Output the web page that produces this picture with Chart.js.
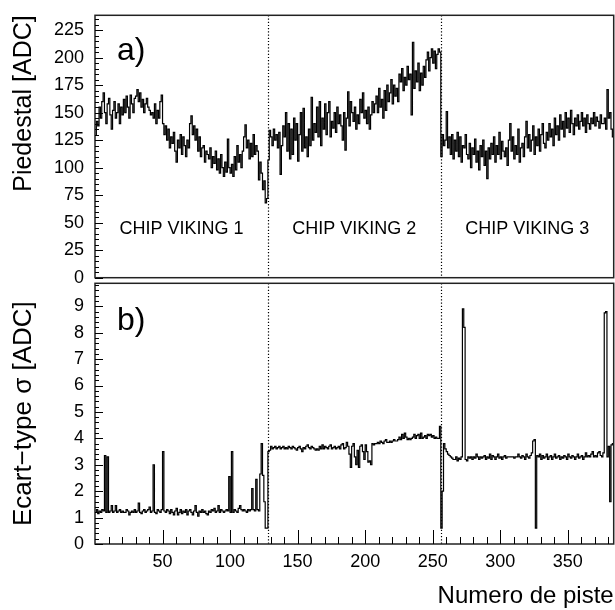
<!DOCTYPE html>
<html>
<head>
<meta charset="utf-8">
<title>Piedestal et bruit - VIKING</title>
<script src="https://cdn.jsdelivr.net/npm/chart.js@4.4.1/dist/chart.umd.min.js"></script>
<style>
    body { margin: 0; background: #fff; }
    .wrap { position: relative; width: 615px; height: 610px; }
    canvas { position: absolute; left: 0; }
    #chartA { top: 0; }
    #chartB { top: 270px; }
</style>
</head>
<body onload="onInit()">
<div class="wrap">
    <canvas id="chartA" width="615" height="300"></canvas>
    <canvas id="chartB" width="615" height="340"></canvas>
</div>
<script>
'use strict'

// piedestal per strip (ADC), one array per VIKING chip (128 strips each)
const PED_CHIP1 = [
    130, 142, 138, 155, 145, 160, 168, 150, 140, 158,
    163, 148, 135, 152, 160, 145, 150, 158, 140, 155,
    148, 162, 150, 165, 155, 145, 166, 158, 150, 163,
    165, 171, 160, 168, 155, 162, 150, 158, 163, 155,
    152, 148, 150, 145, 158, 140, 152, 145, 160, 166,
    140, 130, 138, 125, 135, 118, 128, 122, 132, 115,
    105, 125, 118, 130, 112, 128, 120, 110, 125, 118,
    140, 147, 130, 138, 125, 135, 115, 128, 110, 118,
    120, 105, 115, 112, 108, 118, 100, 110, 104, 115,
    98, 108, 95, 112, 100, 92, 105, 96, 126, 100,
    95, 103, 92, 110, 98, 120, 105, 112, 100, 115,
    128, 139, 118, 125, 108, 122, 110, 130, 112, 120,
    115, 89, 105, 95, 80, 88, 68, 72
]
const PED_CHIP2 = [
    107, 134, 128, 120, 135, 125, 130, 118, 132, 94,
    120, 138, 128, 150, 115, 140, 108, 135, 112, 145,
    125, 140, 106, 130, 150, 115, 154, 118, 128, 110,
    135, 120, 164, 125, 140, 132, 155, 128, 160, 120,
    145, 135, 158, 130, 150, 160, 128, 142, 136, 150,
    132, 155, 140, 148, 138, 125, 150, 116, 145, 169,
    138, 160, 150, 142, 155, 135, 148, 140, 162, 150,
    168, 145, 152, 140, 155, 135, 148, 160, 150, 158,
    165, 150, 172, 155, 162, 145, 170, 152, 175, 160,
    168, 180, 158, 175, 165, 172, 160, 185, 178, 190,
    170, 182, 175, 192, 180, 185, 148, 214, 172, 188,
    178, 195, 170, 186, 175, 192, 182, 198, 205, 188,
    200, 208, 195, 206, 190, 203, 208, 205
]
const PED_CHIP3 = [
    110, 130, 120, 125, 151, 118, 128, 112, 130, 108,
    125, 115, 132, 110, 128, 105, 120, 118, 130, 112,
    108, 122, 100, 118, 112, 126, 105, 115, 98, 120,
    110, 125, 102, 115, 90, 118, 108, 122, 112, 128,
    105, 120, 112, 132, 108, 124, 115, 110, 118, 102,
    125, 140, 115, 128, 108, 120, 112, 135, 105, 118,
    122, 110, 128, 142, 118, 130, 115, 125, 138, 112,
    128, 120, 135, 115, 130, 140, 122, 118, 132, 125,
    140, 128, 135, 120, 145, 130, 138, 125, 148, 135,
    142, 128, 150, 136, 145, 132, 152, 140, 130, 145,
    138, 148, 135, 142, 150, 138, 145, 132, 148, 140,
    135, 145, 140, 150, 138, 146, 142, 136, 148, 140,
    140, 145, 135, 171, 145, 150, 135, 128
]

// ecart-type (bruit) per strip (ADC)
const SIG_CHIP1 = [
    1.2, 1.3, 1.15, 1.25, 1.2, 1.3, 1.25, 3.35, 1.2, 3.3,
    1.2, 1.25, 1.45, 1.2, 1.25, 1.45, 1.2, 1.25, 1.3, 1.2,
    1.25, 1.2, 1.2, 1.3, 1.25, 1.1, 1.2, 1.25, 1.2, 1.3,
    1.2, 1.25, 1.55, 1.2, 1.15, 1.25, 1.3, 1.2, 1.25, 1.3,
    1.4, 1.2, 1.25, 3.0, 1.2, 1.15, 1.3, 1.25, 1.2, 1.3,
    3.5, 1.25, 1.2, 1.3, 1.25, 1.15, 1.3, 1.2, 1.1, 1.25,
    1.35, 1.1, 1.2, 1.3, 1.15, 1.25, 1.2, 1.3, 1.1, 1.25,
    1.3, 1.2, 1.1, 1.25, 1.45, 1.2, 1.05, 1.25, 1.2, 1.3,
    1.2, 1.25, 1.15, 1.1, 1.25, 1.2, 1.3, 1.25, 1.35, 1.2,
    1.25, 1.45, 1.2, 1.3, 1.25, 1.2, 1.25, 1.3, 1.25, 2.55,
    1.2, 3.5, 1.2, 1.3, 1.25, 1.2, 1.35, 1.45, 1.3, 1.25,
    1.3, 1.25, 1.2, 1.3, 1.25, 1.3, 2.1, 1.3, 1.25, 2.45,
    1.3, 1.25, 2.65, 3.8, 2.6, 1.6, 0.6, 0.6
]
const SIG_CHIP2 = [
    3.5, 3.55, 3.7, 3.6, 3.65, 3.7, 3.6, 3.65, 3.7, 3.6,
    3.65, 3.7, 3.6, 3.65, 3.6, 3.7, 3.65, 3.6, 3.7, 3.65,
    3.6, 3.55, 3.65, 3.7, 3.6, 3.5, 3.65, 3.6, 3.7, 3.75,
    3.65, 3.6, 3.7, 3.65, 3.6, 3.55, 3.6, 3.55, 3.7, 3.6,
    3.75, 3.6, 3.7, 3.65, 3.6, 3.7, 3.75, 3.6, 3.65, 3.7,
    3.6, 3.65, 3.7, 3.6, 3.75, 3.8, 3.6, 3.65, 3.85, 3.7,
    3.4, 2.9, 3.7, 3.8, 3.3, 3.0, 3.55, 2.9, 3.7, 3.75,
    3.5, 3.2, 3.75, 3.5, 3.1, 3.15, 3.0, 3.8, 3.75, 3.8,
    3.8, 3.85, 3.8, 3.9, 3.85, 3.8, 3.9, 3.95, 3.85, 3.85,
    3.9, 3.85, 3.9, 3.95, 3.9, 3.9, 3.95, 4.05, 3.95, 4.15,
    4.0, 4.2, 4.05, 3.95, 4.0, 3.95, 4.0, 4.05, 4.15, 4.0,
    4.1, 4.15, 4.0, 4.2, 4.0, 4.05, 4.1, 4.0, 4.15, 4.1,
    4.15, 4.05, 4.1, 4.0, 4.05, 4.0, 4.0, 4.45
]
const SIG_CHIP3 = [
    0.6, 2.0, 3.8, 3.6, 3.5, 3.4, 3.35, 3.3, 3.25, 3.2,
    3.2, 3.3, 3.15, 3.25, 3.2, 3.3, 8.9, 8.2, 3.2, 3.15,
    3.3, 3.25, 3.3, 3.2, 3.3, 3.25, 3.4, 3.3, 3.2, 3.3,
    3.25, 3.3, 3.35, 3.2, 3.3, 3.25, 3.4, 3.2, 3.35, 3.3,
    3.2, 3.3, 3.4, 3.25, 3.3, 3.2, 3.3, 3.35, 3.25, 3.3,
    3.3, 3.3, 3.3, 3.3, 3.25, 3.3, 3.3, 3.4, 3.3, 3.25,
    3.35, 3.3, 3.2, 3.4, 3.3, 3.25, 3.35, 3.45, 3.9, 3.95,
    0.6, 3.35, 3.3, 3.4, 3.2, 3.35, 3.25, 3.3, 3.4, 3.2,
    3.3, 3.35, 3.2, 3.3, 3.4, 3.25, 3.3, 3.35, 3.2, 3.3,
    3.25, 3.35, 3.3, 3.2, 3.4, 3.3, 3.25, 3.35, 3.3, 3.2,
    3.3, 3.4, 3.25, 3.3, 3.35, 3.2, 3.3, 3.45, 3.3, 3.35,
    3.3, 3.4, 3.5, 3.3, 3.35, 3.3, 3.45, 3.5, 3.35, 3.3,
    3.45, 8.75, 8.8, 3.3, 3.7, 1.6, 3.75, 3.8
]

const CHIP_LABELS = ['CHIP VIKING 1', 'CHIP VIKING 2', 'CHIP VIKING 3']
const CHIP_CENTERS = [64, 192, 320]
const CHIP_BOUNDS = [128, 256]
const X_TICKS = [50, 100, 150, 200, 250, 300, 350]
const PED_TICKS = [0, 25, 50, 75, 100, 125, 150, 175, 200, 225]
const SIG_TICKS = [0, 1, 2, 3, 4, 5, 6, 7, 8, 9]

const FONT = '"Liberation Sans", Arial, Helvetica, sans-serif'

var gChartA
var gChartB

// ROOT-like decorations: frame, inner ticks, dotted chip borders, texts
const panelDeco = {
    id: 'panelDeco',
    afterDraw(chart, args, opts) {
        const ctx = chart.ctx
        const area = chart.chartArea
        const xScale = chart.scales.x
        const yScale = chart.scales.y
        ctx.save()

        ctx.strokeStyle = '#000'
        ctx.lineWidth = 1.2
        ctx.setLineDash([1.2, 2])
        CHIP_BOUNDS.forEach(ch => {
            const x = Math.round(xScale.getPixelForValue(ch)) + 0.5
            ctx.beginPath()
            ctx.moveTo(x, area.top)
            ctx.lineTo(x, area.bottom)
            ctx.stroke()
        })
        ctx.setLineDash([])

        ctx.lineWidth = 1.5
        ctx.strokeStyle = '#222'
        ctx.strokeRect(area.left, area.top, area.right - area.left, area.bottom - area.top)

        // y ticks, drawn inward
        ctx.lineWidth = 1
        ctx.strokeStyle = '#000'
        const nPerMajor = Math.round(opts.yMajor / opts.yMinor)
        for (let i = 0; i * opts.yMinor <= yScale.max + 1e-9; i++) {
            const y = Math.round(yScale.getPixelForValue(i * opts.yMinor)) + 0.5
            const len = i % nPerMajor === 0 ? 8 : 4
            ctx.beginPath()
            ctx.moveTo(area.left, y)
            ctx.lineTo(area.left + len, y)
            ctx.stroke()
        }

        // x ticks only on the lower panel
        if (opts.xTicks) {
            for (let v = 10; v < xScale.max; v += 10) {
                const x = Math.round(xScale.getPixelForValue(v)) + 0.5
                const len = v % 50 === 0 ? 14 : 7
                ctx.beginPath()
                ctx.moveTo(x, area.bottom)
                ctx.lineTo(x, area.bottom - len)
                ctx.stroke()
            }
        }

        ctx.fillStyle = '#000'
        ctx.textBaseline = 'alphabetic'
        ctx.textAlign = 'left'
        ctx.font = '32px ' + FONT
        ctx.fillText(opts.panelLabel, area.left + 22, area.top + opts.labelDrop)

        if (opts.chipLabels) {
            ctx.font = '18px ' + FONT
            ctx.textAlign = 'center'
            CHIP_LABELS.forEach((label, idx) => {
                ctx.fillText(label, xScale.getPixelForValue(CHIP_CENTERS[idx]), yScale.getPixelForValue(40))
            })
        }
        ctx.restore()
    }
}

function onInit() {
    Chart.defaults.font.family = FONT
    Chart.defaults.color = '#000'
    gChartA = renderPanel('chartA', PED_CHIP1.concat(PED_CHIP2, PED_CHIP3), {
        yMax: 238.5,
        yTicks: PED_TICKS,
        yTitle: 'Piedestal [ADC]',
        yTitleAlign: 'end',
        yTitleSize: 25,
        padTop: 15.3,
        padBottom: 22.3,
        xAxis: false,
        deco: { panelLabel: 'a)', labelDrop: 45, yMajor: 25, yMinor: 5, xTicks: false, chipLabels: true }
    })
    gChartB = renderPanel('chartB', SIG_CHIP1.concat(SIG_CHIP2, SIG_CHIP3), {
        yMax: 9.87,
        yTicks: SIG_TICKS,
        yTitle: 'Ecart\u2212type \u03c3 [ADC]',
        yTitleAlign: 'center',
        yTitleSize: 26,
        padTop: 13.3,
        padBottom: 0,
        xAxis: true,
        deco: { panelLabel: 'b)', labelDrop: 47, yMajor: 1, yMinor: 0.2, xTicks: true, chipLabels: false }
    })
}

function toPoints(values) {
    return values.map((v, i) => ({ x: i + 0.5, y: v }))
}

function renderPanel(canvasId, values, cfg) {
    const ctx = document.getElementById(canvasId)
    return new Chart(ctx, {
        type: 'line',
        data: {
            datasets: [{
                data: toPoints(values),
                borderColor: '#000',
                borderWidth: 1.2,
                pointRadius: 0,
                stepped: 'middle',
                fill: false
            }]
        },
        options: {
            responsive: false,
            animation: false,
            layout: { padding: { left: 0, right: 1.3, top: cfg.padTop, bottom: cfg.padBottom } },
            plugins: {
                legend: { display: false },
                tooltip: { enabled: false },
                panelDeco: cfg.deco
            },
            scales: {
                x: {
                    type: 'linear',
                    min: 0,
                    max: 384,
                    display: cfg.xAxis,
                    afterBuildTicks: scale => { scale.ticks = X_TICKS.map(v => ({ value: v })) },
                    afterFit: scale => {
                        scale.height = cfg.xAxis ? 66 : 0
                        scale.paddingLeft = 0
                        scale.paddingRight = 0
                    },
                    grid: { display: false, drawTicks: false },
                    border: { display: false },
                    ticks: { color: '#000', padding: 7, maxRotation: 0, autoSkip: false, font: { size: 18 } },
                    title: {
                        display: true,
                        text: 'Numero de piste',
                        align: 'end',
                        color: '#000',
                        font: { size: 24, lineHeight: 1.1 },
                        padding: 0
                    }
                },
                y: {
                    min: 0,
                    max: cfg.yMax,
                    afterBuildTicks: scale => { scale.ticks = cfg.yTicks.map(v => ({ value: v })) },
                    afterFit: scale => {
                        scale.width = 95
                        scale.paddingTop = 0
                        scale.paddingBottom = 0
                    },
                    grid: { display: false, drawTicks: false },
                    border: { display: false },
                    ticks: { color: '#000', padding: 11, autoSkip: false, font: { size: 18 } },
                    title: {
                        display: true,
                        text: cfg.yTitle,
                        align: cfg.yTitleAlign,
                        color: '#000',
                        font: { size: cfg.yTitleSize, lineHeight: 1.1 },
                        padding: { top: 10, bottom: 0 }
                    }
                }
            }
        },
        plugins: [panelDeco]
    })
}
</script>
</body>
</html>
